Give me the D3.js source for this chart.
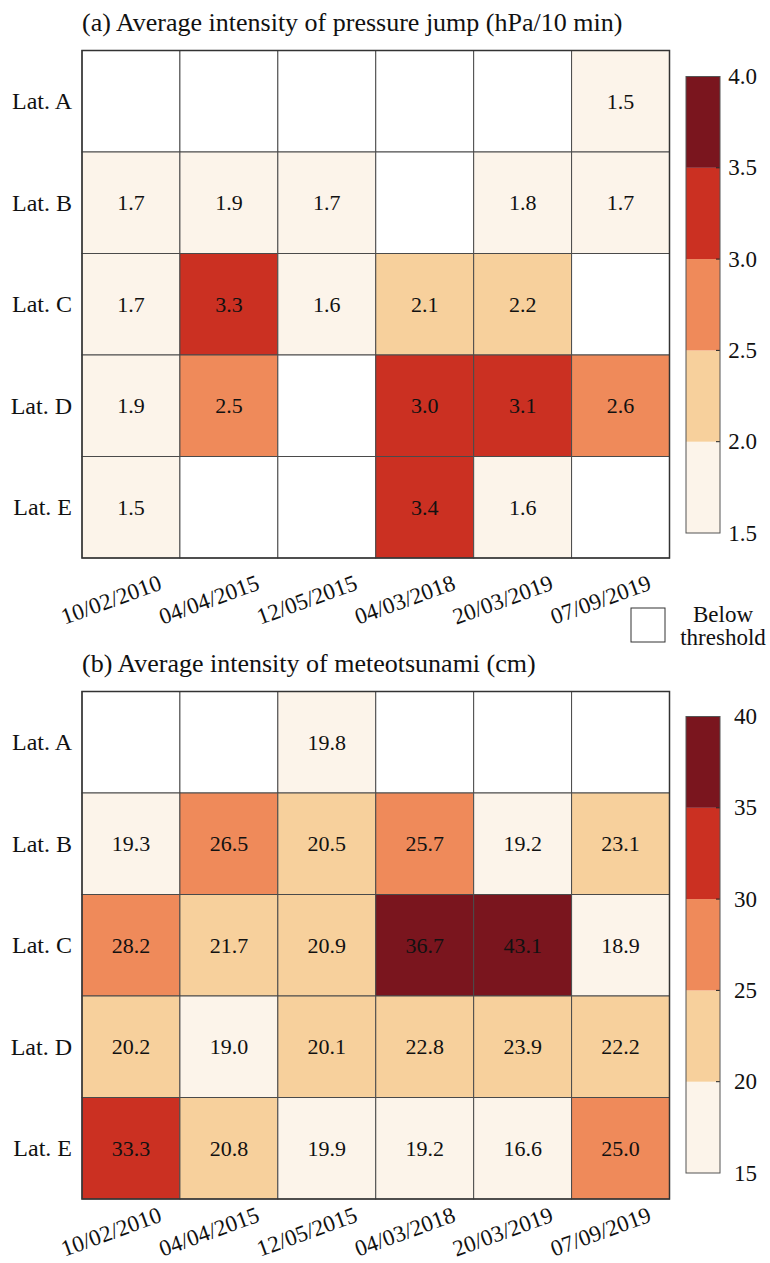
<!DOCTYPE html>
<html>
<head>
<meta charset="utf-8">
<script src="https://cdn.jsdelivr.net/npm/d3@7"></script>
<style>
  body { margin: 0; background: #fff; }
  svg { display: block; }
  text { font-family: "Liberation Serif", "Times New Roman", serif; fill: #111; }
</style>
</head>
<body>
<svg id="chart" width="770" height="1263"></svg>
<script>
"use strict";

// categories
const dates = ["10/02/2010", "04/04/2015", "12/05/2015", "04/03/2018", "20/03/2019", "07/09/2019"];
const lats = ["Lat. A", "Lat. B", "Lat. C", "Lat. D", "Lat. E"];

// (a) pressure jump, hPa/10 min, null = below threshold
const pressureA = [null, null, null, null, null, 1.5];
const pressureB = [1.7, 1.9, 1.7, null, 1.8, 1.7];
const pressureC = [1.7, 3.3, 1.6, 2.1, 2.2, null];
const pressureD = [1.9, 2.5, null, 3.0, 3.1, 2.6];
const pressureE = [1.5, null, null, 3.4, 1.6, null];

// (b) meteotsunami, cm
const meteoA = [null, null, 19.8, null, null, null];
const meteoB = [19.3, 26.5, 20.5, 25.7, 19.2, 23.1];
const meteoC = [28.2, 21.7, 20.9, 36.7, 43.1, 18.9];
const meteoD = [20.2, 19.0, 20.1, 22.8, 23.9, 22.2];
const meteoE = [33.3, 20.8, 19.9, 19.2, 16.6, 25.0];

// colour bar ticks
const pressureTicks = [1.5, 2.0, 2.5, 3.0, 3.5, 4.0];
const meteoTicks = [15, 20, 25, 30, 35, 40];

const palette = ["#fcf4ea", "#f7d09c", "#ef8a5a", "#cb3022", "#7a151e"];

const svg = d3.select("#chart");

function drawPanel(cfg) {
    const g = svg.append("g");

    const x = d3.scaleBand().domain(dates).range([82, 669.5]);
    const y = d3.scaleBand().domain(lats).range([cfg.top, cfg.top + 507.5]);
    const color = d3.scaleThreshold()
        .domain(cfg.ticks.slice(1, -1))
        .range(palette);

    // flatten rows into cells
    const cells = [];
    cfg.rows.forEach(function (row, i) {
        row.forEach(function (v, j) {
            cells.push({ lat: lats[i], date: dates[j], value: v });
        });
    });

    g.append("text")
        .attr("x", 82)
        .attr("y", cfg.top - 20)
        .style("font-size", "26px")
        .text(cfg.title);

    g.selectAll("rect.cell")
        .data(cells)
        .join("rect")
        .attr("class", "cell")
        .attr("x", d => x(d.date))
        .attr("y", d => y(d.lat))
        .attr("width", x.bandwidth())
        .attr("height", y.bandwidth())
        .attr("fill", d => d.value == null ? "#ffffff" : color(d.value))
        .attr("stroke", "#4a4a4a")
        .attr("stroke-width", 1);

    g.selectAll("text.val")
        .data(cells.filter(d => d.value != null))
        .join("text")
        .attr("class", "val")
        .attr("x", d => x(d.date) + x.bandwidth() / 2)
        .attr("y", d => y(d.lat) + y.bandwidth() / 2)
        .attr("text-anchor", "middle")
        .attr("dominant-baseline", "central")
        .style("font-size", "22px")
        .text(d => d.value.toFixed(1));

    // outer frame
    g.append("rect")
        .attr("x", 82).attr("y", cfg.top)
        .attr("width", 587.5).attr("height", 507.5)
        .attr("fill", "none")
        .attr("stroke", "#333")
        .attr("stroke-width", 1.5);

    // row labels
    g.selectAll("text.lat")
        .data(lats)
        .join("text")
        .attr("class", "lat")
        .attr("x", 72)
        .attr("y", d => y(d) + y.bandwidth() / 2)
        .attr("text-anchor", "end")
        .attr("dominant-baseline", "central")
        .style("font-size", "24px")
        .text(d => d);

    // rotated date labels
    const bottom = cfg.top + 507.5;
    g.selectAll("text.date")
        .data(dates)
        .join("text")
        .attr("class", "date")
        .attr("text-anchor", "end")
        .attr("transform", d => "translate(" + (x(d) + x.bandwidth() / 2 + 32) + "," + (bottom + cfg.labelDrop) + ") rotate(-20)")
        .style("font-size", "23px")
        .text(d => d);

    // colour bar
    const cb = d3.scaleLinear()
        .domain([cfg.ticks[0], cfg.ticks[cfg.ticks.length - 1]])
        .range([cfg.cbBottom, cfg.cbBottom - 456.5]);
    const segs = d3.pairs(cfg.ticks);
    g.selectAll("rect.seg")
        .data(segs)
        .join("rect")
        .attr("class", "seg")
        .attr("x", 686)
        .attr("width", 34)
        .attr("y", d => cb(d[1]))
        .attr("height", d => cb(d[0]) - cb(d[1]))
        .attr("fill", (d, i) => palette[i]);
    g.selectAll("line.cbtick")
        .data(cfg.ticks.slice(1, -1))
        .join("line")
        .attr("class", "cbtick")
        .attr("x1", 716).attr("x2", 720)
        .attr("y1", d => cb(d)).attr("y2", d => cb(d))
        .attr("stroke", "#222");
    g.append("rect")
        .attr("x", 686).attr("y", cb.range()[1])
        .attr("width", 34).attr("height", 456.5)
        .attr("fill", "none")
        .attr("stroke", "#555")
        .attr("stroke-width", 1);
    g.selectAll("text.cblab")
        .data(cfg.ticks)
        .join("text")
        .attr("class", "cblab")
        .attr("x", 757)
        .attr("y", d => cb(d))
        .attr("text-anchor", "end")
        .attr("dominant-baseline", "central")
        .style("font-size", "23px")
        .text(cfg.fmt);
}

drawPanel({
    title: "(a) Average intensity of pressure jump (hPa/10 min)",
    top: 50.5,
    rows: [pressureA, pressureB, pressureC, pressureD, pressureE],
    ticks: pressureTicks,
    cbBottom: 533,
    labelDrop: 31,
    fmt: d => d.toFixed(1)
});

drawPanel({
    title: "(b) Average intensity of meteotsunami (cm)",
    top: 691.5,
    rows: [meteoA, meteoB, meteoC, meteoD, meteoE],
    ticks: meteoTicks,
    cbBottom: 1173,
    labelDrop: 22,
    fmt: d => d3.format("d")(d)
});

// legend for empty cells
svg.append("rect")
    .attr("x", 631).attr("y", 608)
    .attr("width", 34).attr("height", 34)
    .attr("fill", "#fff")
    .attr("stroke", "#333")
    .attr("stroke-width", 1);
svg.append("text")
    .attr("x", 723).attr("y", 622)
    .attr("text-anchor", "middle")
    .style("font-size", "23px")
    .text("Below");
svg.append("text")
    .attr("x", 723).attr("y", 645)
    .attr("text-anchor", "middle")
    .style("font-size", "23px")
    .text("threshold");
</script>
</body>
</html>
